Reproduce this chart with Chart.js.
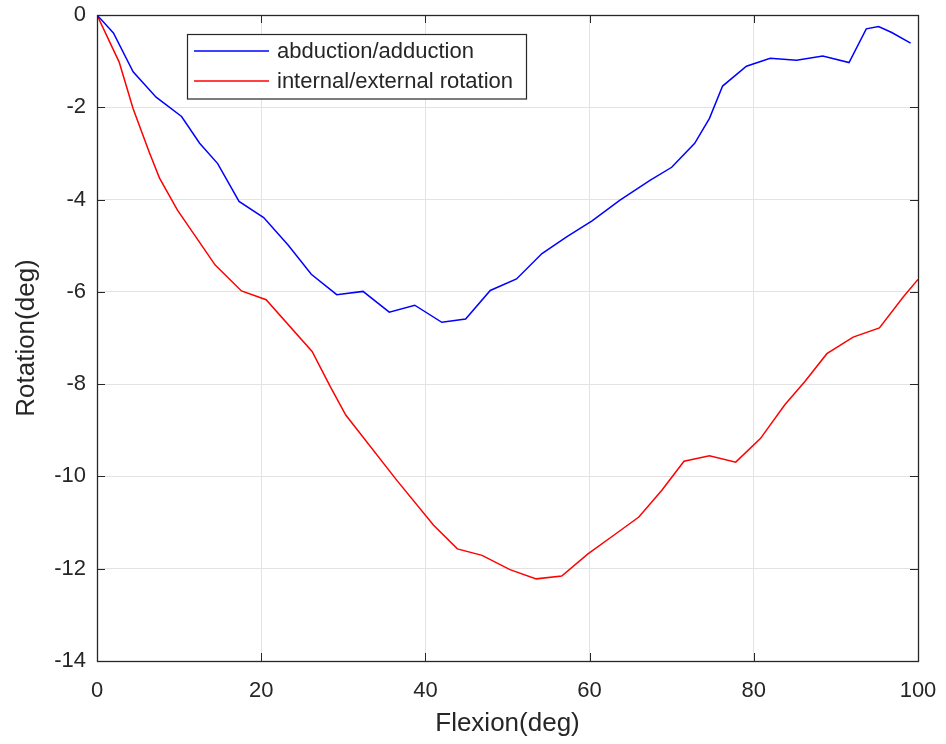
<!DOCTYPE html>
<html>
<head>
<meta charset="utf-8">
<title>Rotation vs Flexion</title>
<script src="https://cdn.jsdelivr.net/npm/chart.js@4.4.1/dist/chart.umd.min.js"></script>
<style>
  html, body { margin: 0; padding: 0; background: #ffffff; }
  #wrap { width: 946px; height: 744px; }
</style>
</head>
<body>
<div id="wrap"><canvas id="rotChart" width="946" height="744"></canvas></div>
<script>
// abduction/adduction curve (flexion angle -> rotation)
const abdFlexion  = [0, 2.0, 4.4, 7.2, 10.3, 12.5, 14.7, 17.3, 20.3, 23.3, 26.1, 29.2, 32.4, 35.6, 38.7,
                     42.0, 44.9, 47.9, 51.1, 54.2, 57.2, 60.3, 63.7, 67.4, 70.0, 72.8, 74.6, 76.2, 79.1,
                     82.0, 85.2, 88.4, 91.6, 93.7, 95.2, 96.8, 99.1];
const abdRotation = [0, -0.39, -1.23, -1.78, -2.20, -2.78, -3.22, -4.04, -4.39, -4.99, -5.62, -6.06, -5.99, -6.44, -6.29,
                     -6.66, -6.59, -5.97, -5.72, -5.17, -4.81, -4.46, -4.01, -3.58, -3.30, -2.78, -2.24, -1.54, -1.11,
                     -0.94, -0.98, -0.89, -1.03, -0.30, -0.25, -0.38, -0.61];

// internal/external rotation curve
const intFlexion  = [0, 2.7, 4.4, 6.4, 7.6, 9.8, 14.4, 17.6, 20.6, 26.2, 28.4, 30.3, 36.5, 41.0, 43.9,
                     46.9, 50.3, 53.5, 56.6, 59.8, 62.9, 66.0, 68.8, 71.5, 74.6, 77.8, 80.8, 83.8, 86.2,
                     88.9, 92.1, 95.3, 98.2, 100];
const intRotation = [0, -1.02, -2.03, -2.99, -3.53, -4.23, -5.42, -5.98, -6.17, -7.29, -8.05, -8.67, -10.08, -11.06, -11.57,
                     -11.71, -12.02, -12.22, -12.16, -11.68, -11.28, -10.88, -10.30, -9.67, -9.55, -9.69, -9.18, -8.44, -7.95,
                     -7.34, -6.98, -6.78, -6.11, -5.73];

const xTickValues = [0, 20, 40, 60, 80, 100];
const yTickValues = [0, -2, -4, -6, -8, -10, -12, -14];

const seriesNames = ['abduction/adduction', 'internal/external rotation'];

const FONT = '"Liberation Sans", Arial, Helvetica, sans-serif';
const AXIS_COLOR = '#262626';
const GRID_COLOR = '#e3e3e3';

const toPoints = (xs, ys) => xs.map((x, i) => ({ x: x, y: ys[i] }));

// box around the plot, inward tick marks and the boxed legend
const matlabAxes = {
    id: 'matlabAxes',
    afterDraw(chart) {
        const { ctx, chartArea: a, scales } = chart;
        const tl = 8;
        ctx.save();
        ctx.strokeStyle = AXIS_COLOR;
        ctx.lineWidth = 1;
        ctx.beginPath();
        scales.x.ticks.forEach(t => {
            const px = Math.round(scales.x.getPixelForValue(t.value)) + 0.5;
            ctx.moveTo(px, a.bottom); ctx.lineTo(px, a.bottom - tl);
            ctx.moveTo(px, a.top);    ctx.lineTo(px, a.top + tl);
        });
        scales.y.ticks.forEach(t => {
            const py = Math.round(scales.y.getPixelForValue(t.value)) + 0.5;
            ctx.moveTo(a.left, py);  ctx.lineTo(a.left + tl, py);
            ctx.moveTo(a.right, py); ctx.lineTo(a.right - tl, py);
        });
        ctx.stroke();
        ctx.lineWidth = 1.3;
        ctx.strokeRect(Math.round(a.left) + 0.5, Math.round(a.top) + 0.5,
                       Math.round(a.right - a.left), Math.round(a.bottom - a.top));

        // legend
        const bx = 187.5, by = 34.5, bw = 339, bh = 64.5;
        ctx.fillStyle = '#ffffff';
        ctx.fillRect(bx, by, bw, bh);
        ctx.lineWidth = 1.2;
        ctx.strokeStyle = AXIS_COLOR;
        ctx.strokeRect(bx, by, bw, bh);
        ctx.font = '22px ' + FONT;
        ctx.textBaseline = 'middle';
        ctx.textAlign = 'left';
        chart.data.datasets.forEach((ds, i) => {
            const ly = 51 + i * 30;
            ctx.strokeStyle = ds.borderColor;
            ctx.lineWidth = 1.5;
            ctx.beginPath();
            ctx.moveTo(194, ly); ctx.lineTo(269, ly);
            ctx.stroke();
            ctx.fillStyle = AXIS_COLOR;
            ctx.fillText(ds.label, 277, ly + 1);
        });
        ctx.restore();
    }
};

new Chart(document.getElementById('rotChart'), {
    type: 'line',
    data: {
        datasets: [
            {
                label: seriesNames[0],
                data: toPoints(abdFlexion, abdRotation),
                borderColor: '#0000ff',
                borderWidth: 1.5,
                pointRadius: 0,
                tension: 0,
            },
            {
                label: seriesNames[1],
                data: toPoints(intFlexion, intRotation),
                borderColor: '#ff0000',
                borderWidth: 1.5,
                pointRadius: 0,
                tension: 0,
            }
        ]
    },
    options: {
        responsive: false,
        animation: false,
        events: [],
        layout: { padding: { top: 15, right: 28, left: 0, bottom: 0 } },
        plugins: {
            legend: { display: false },
            tooltip: { enabled: false },
        },
        scales: {
            x: {
                type: 'linear',
                min: 0,
                max: 100,
                afterBuildTicks: s => { s.ticks = xTickValues.map(v => ({ value: v })); },
                afterFit: s => { s.height = 83; s.paddingLeft = 0; s.paddingRight = 0; },
                grid: { color: GRID_COLOR, drawTicks: false },
                border: { display: false },
                ticks: {
                    color: AXIS_COLOR,
                    font: { family: FONT, size: 22 },
                    padding: 17,
                    maxRotation: 0,
                },
                title: {
                    display: true,
                    text: 'Flexion(deg)',
                    color: AXIS_COLOR,
                    font: { family: FONT, size: 26 },
                    padding: { top: 0, bottom: 5 },
                }
            },
            y: {
                type: 'linear',
                min: -14,
                max: 0,
                afterBuildTicks: s => { s.ticks = yTickValues.map(v => ({ value: v })); },
                afterFit: s => { s.width = 97; s.paddingTop = 0; s.paddingBottom = 0; },
                grid: { color: GRID_COLOR, drawTicks: false },
                border: { display: false },
                ticks: {
                    color: AXIS_COLOR,
                    font: { family: FONT, size: 22 },
                    padding: 11,
                },
                title: {
                    display: true,
                    text: 'Rotation(deg)',
                    color: AXIS_COLOR,
                    font: { family: FONT, size: 26 },
                    padding: { top: 11, bottom: 0 },
                }
            }
        }
    },
    plugins: [matlabAxes]
});
</script>
</body>
</html>
